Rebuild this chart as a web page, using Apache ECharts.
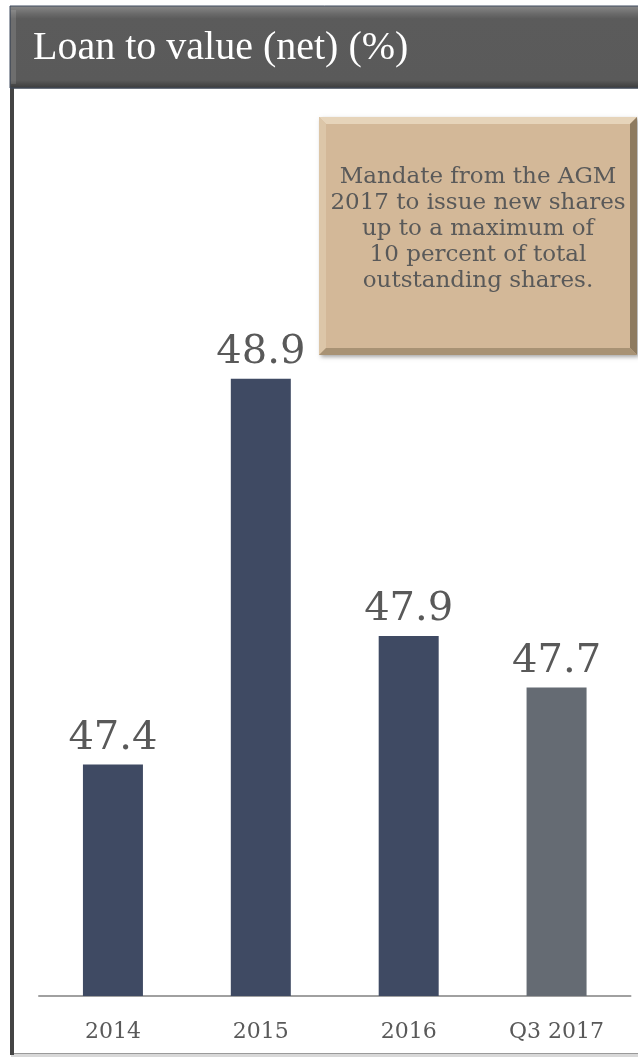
<!DOCTYPE html>
<html><head><meta charset="utf-8">
<script src="https://cdn.jsdelivr.net/npm/echarts@6/dist/echarts.min.js"></script>
<style>html,body{margin:0;padding:0;background:#fff}#c{width:638px;height:1060px}</style>
</head><body><div id="c"></div>
<script>
const categories = ['2014', '2015', '2016', 'Q3 2017'];
const values = [47.4, 48.9, 47.9, 47.7];
const barColors = ['#3F4A63', '#3F4A63', '#3F4A63', '#656B73'];
const title = 'Loan to value (net) (%)';
const note = 'Mandate from the AGM\n2017 to issue new shares\nup to a maximum of\n10 percent of total\noutstanding shares.';

const SERIF = "'DejaVu Serif', serif";
const chart = echarts.init(document.getElementById('c'));

// annotation box geometry
const bx = 319, by = 117, bw = 318, bh = 238, bev = 7;
chart.setOption({
  animation: false,
  backgroundColor: '#fff',
  grid: {left: 39, right: 7.5, top: 96, bottom: 64, containLabel: false},
  xAxis: {
    type: 'category', data: categories,
    axisLine: {lineStyle: {color: '#A0A0A0', width: 2}},
    axisTick: {show: false},
    axisLabel: {color: '#595959', fontFamily: SERIF, fontSize: 22, margin: 25}
  },
  yAxis: {type: 'value', min: 46.5, max: 50, show: false, splitLine: {show: false}},
  series: [{
    type: 'bar', barWidth: 60,
    data: values.map((v, i) => ({value: v, itemStyle: {color: barColors[i]}})),
    label: {show: true, position: 'top', distance: 6, color: '#595959', fontFamily: SERIF, fontSize: 40,
            formatter: p => p.value.toFixed(1)}
  }],
  graphic: [
    // frame
    {type: 'rect', shape: {x: 11, y: 88, width: 640, height: 966}, style: {fill: 'none', stroke: '#9A9A9A', lineWidth: 2}, z: 1},
    {type: 'rect', shape: {x: 11, y: 1054, width: 640, height: 3}, style: {fill: '#D8D8D8'}, z: 1},
    {type: 'rect', shape: {x: 10, y: 88, width: 4, height: 967}, style: {fill: '#444444'}, z: 2},
    // header
    {type: 'rect', shape: {x: 10, y: 6, width: 640, height: 82},
     style: {fill: new echarts.graphic.LinearGradient(0, 0, 0, 1, [
       {offset: 0, color: '#8A8A8A'}, {offset: 0.1, color: '#6A6A6A'}, {offset: 0.16, color: '#5B5B5B'},
       {offset: 0.9, color: '#5A5A5A'}, {offset: 1, color: '#3A3A3A'}]),
       stroke: '#3E4A5E', lineWidth: 1}, z: 3},
    {type: 'rect', shape: {x: 11, y: 10, width: 5, height: 74}, style: {fill: 'rgba(255,255,255,0.12)'}, z: 3},
    {type: 'text', x: 33, y: 48, z: 4,
     style: {text: title, fill: '#FFFFFF', font: "40px 'Liberation Serif', serif", verticalAlign: 'middle'}},
    // annotation box with bevel
    {type: 'rect', shape: {x: bx, y: by, width: bw, height: bh},
     style: {fill: '#D3B898', shadowColor: 'rgba(0,0,0,0.35)', shadowBlur: 4, shadowOffsetX: 2, shadowOffsetY: 2}, z: 5},
    {type: 'polygon', shape: {points: [[bx, by], [bx + bw, by], [bx + bw - bev, by + bev], [bx + bev, by + bev]]},
     style: {fill: '#E6D4BA'}, z: 6},
    {type: 'polygon', shape: {points: [[bx, by], [bx + bev, by + bev], [bx + bev, by + bh - bev], [bx, by + bh]]},
     style: {fill: '#DCC6A8'}, z: 6},
    {type: 'polygon', shape: {points: [[bx + bw, by], [bx + bw - bev, by + bev], [bx + bw - bev, by + bh - bev], [bx + bw, by + bh]]},
     style: {fill: '#8E7B60'}, z: 6},
    {type: 'polygon', shape: {points: [[bx, by + bh], [bx + bev, by + bh - bev], [bx + bw - bev, by + bh - bev], [bx + bw, by + bh]]},
     style: {fill: '#A89274'}, z: 6},
    {type: 'text', x: 478, y: 229, z: 7,
     style: {text: note, fill: '#595959', font: "23px 'DejaVu Serif', serif",
             align: 'center', verticalAlign: 'middle', lineHeight: 26}}
  ]
});
</script></body></html>
